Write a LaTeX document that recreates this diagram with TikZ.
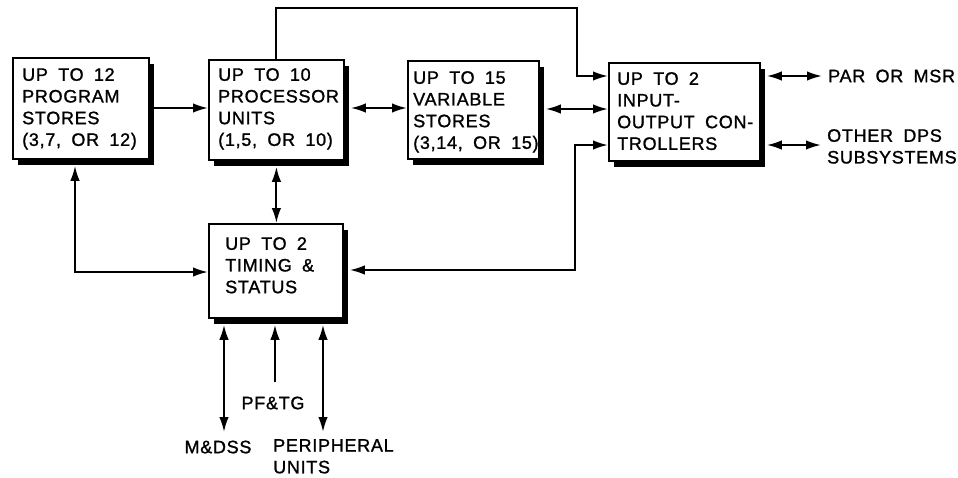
\documentclass[tikz,border=0pt]{standalone}
\usepackage{fontspec}
\setmainfont{Liberation Sans}[LetterSpace=4,WordSpace=1.8,FakeBold=1.2]
\usetikzlibrary{arrows.meta,shadows}
\begin{document}
\begin{tikzpicture}[x=1pt,y=-1pt,
  box/.style={draw=black, line width=1.8pt, fill=white, anchor=north west, inner sep=0pt,
    drop shadow={shadow xshift=5.5pt, shadow yshift=-6.5pt, fill=black, opacity=1}},
  txt/.style={anchor=north west, inner sep=0pt, align=left, font=\fontsize{18}{21.7}\selectfont},
  lbl/.style={inner sep=0pt, align=left, font=\fontsize{18}{21.7}\selectfont},
  conn/.style={line width=2pt, >={Latex[length=15pt,width=9.5pt]}},
]
\useasboundingbox[fill=white] (0,0) rectangle (958,477);

% boxes
\node[box, minimum width=136pt, minimum height=101pt] (P) at (12,57) {};
\node[txt] (Pt) at (22,68) {UP TO 12\\PROGRAM\\STORES\\(3,7, OR 12)};
\node[box, minimum width=135pt, minimum height=100pt] (C) at (208,59) {};
\node[txt] (Ct) at (218,68) {UP TO 10\\PROCESSOR\\UNITS\\(1,5, OR 10)};
\node[box, minimum width=131pt, minimum height=98pt] (V) at (407,60) {};
\node[txt] (Vt) at (413,71) {UP TO 15\\VARIABLE\\STORES\\(3,14, OR 15)};
\node[box, minimum width=151pt, minimum height=98pt] (IO) at (608,62) {};
\node[txt] (IOt) at (617,72) {UP TO 2\\INPUT-\\OUTPUT CON-\\TROLLERS};
\node[box, minimum width=134pt, minimum height=94pt] (T) at (208,223) {};
\node[txt] (Tt) at (225,237) {UP TO 2\\TIMING \&\\STATUS};

% labels
\node[lbl, anchor=west] (par) at (828,76) {PAR OR MSR};
\node[lbl, anchor=north west] (oth) at (827,129) {OTHER DPS\\SUBSYSTEMS};
\node[lbl] (mdss) at (218,447) {M\&DSS};
\node[lbl] (pftg) at (273,403) {PF\&TG};
\node[lbl, anchor=north west] (peri) at (273,439) {PERIPHERAL\\UNITS};

\coordinate (pfend) at (275,382);
\coordinate (mdend) at (224,432);
\coordinate (peend) at (323,432);

% connectors
\draw[conn,->] (P.east |- 0,108) -- (C.west |- 0,108);
\draw[conn,<->,shorten <=6pt] (C.east |- 0,108) -- (V.west |- 0,108);
\draw[conn,<->,shorten <=6pt] (V.east |- 0,109) -- (IO.west |- 0,109);
\draw[conn,->] (C.north) -- (C.north |- 0,8) -- (577,8) -- (577,76) -- (IO.west |- 0,76);
\draw[conn,<->,shorten >=6pt] (IO.west |- 0,145) -- (575,145) -- (575,270) -- (T.east |- 0,270);
\draw[conn,<->,shorten <=6pt] (P.south -| 75,0) -- (75,272) -- (T.west |- 0,272);
\draw[conn,<->,shorten <=6pt] (C.south) -- (C.south |- T.north);
\draw[conn,<->,shorten <=6pt] (IO.east |- 0,76) -- ([xshift=-6pt]par.west);
\draw[conn,<->,shorten <=6pt,shorten >=6pt] (IO.east |- 0,145) -- (oth.west |- 0,145);
\draw[conn,<->,shorten <=6pt] (T.south -| mdend) -- (mdend);
\draw[conn,->,shorten >=6pt] (pfend) -- (T.south -| pfend);
\draw[conn,<->,shorten <=6pt] (T.south -| peend) -- (peend);
\end{tikzpicture}
\end{document}
